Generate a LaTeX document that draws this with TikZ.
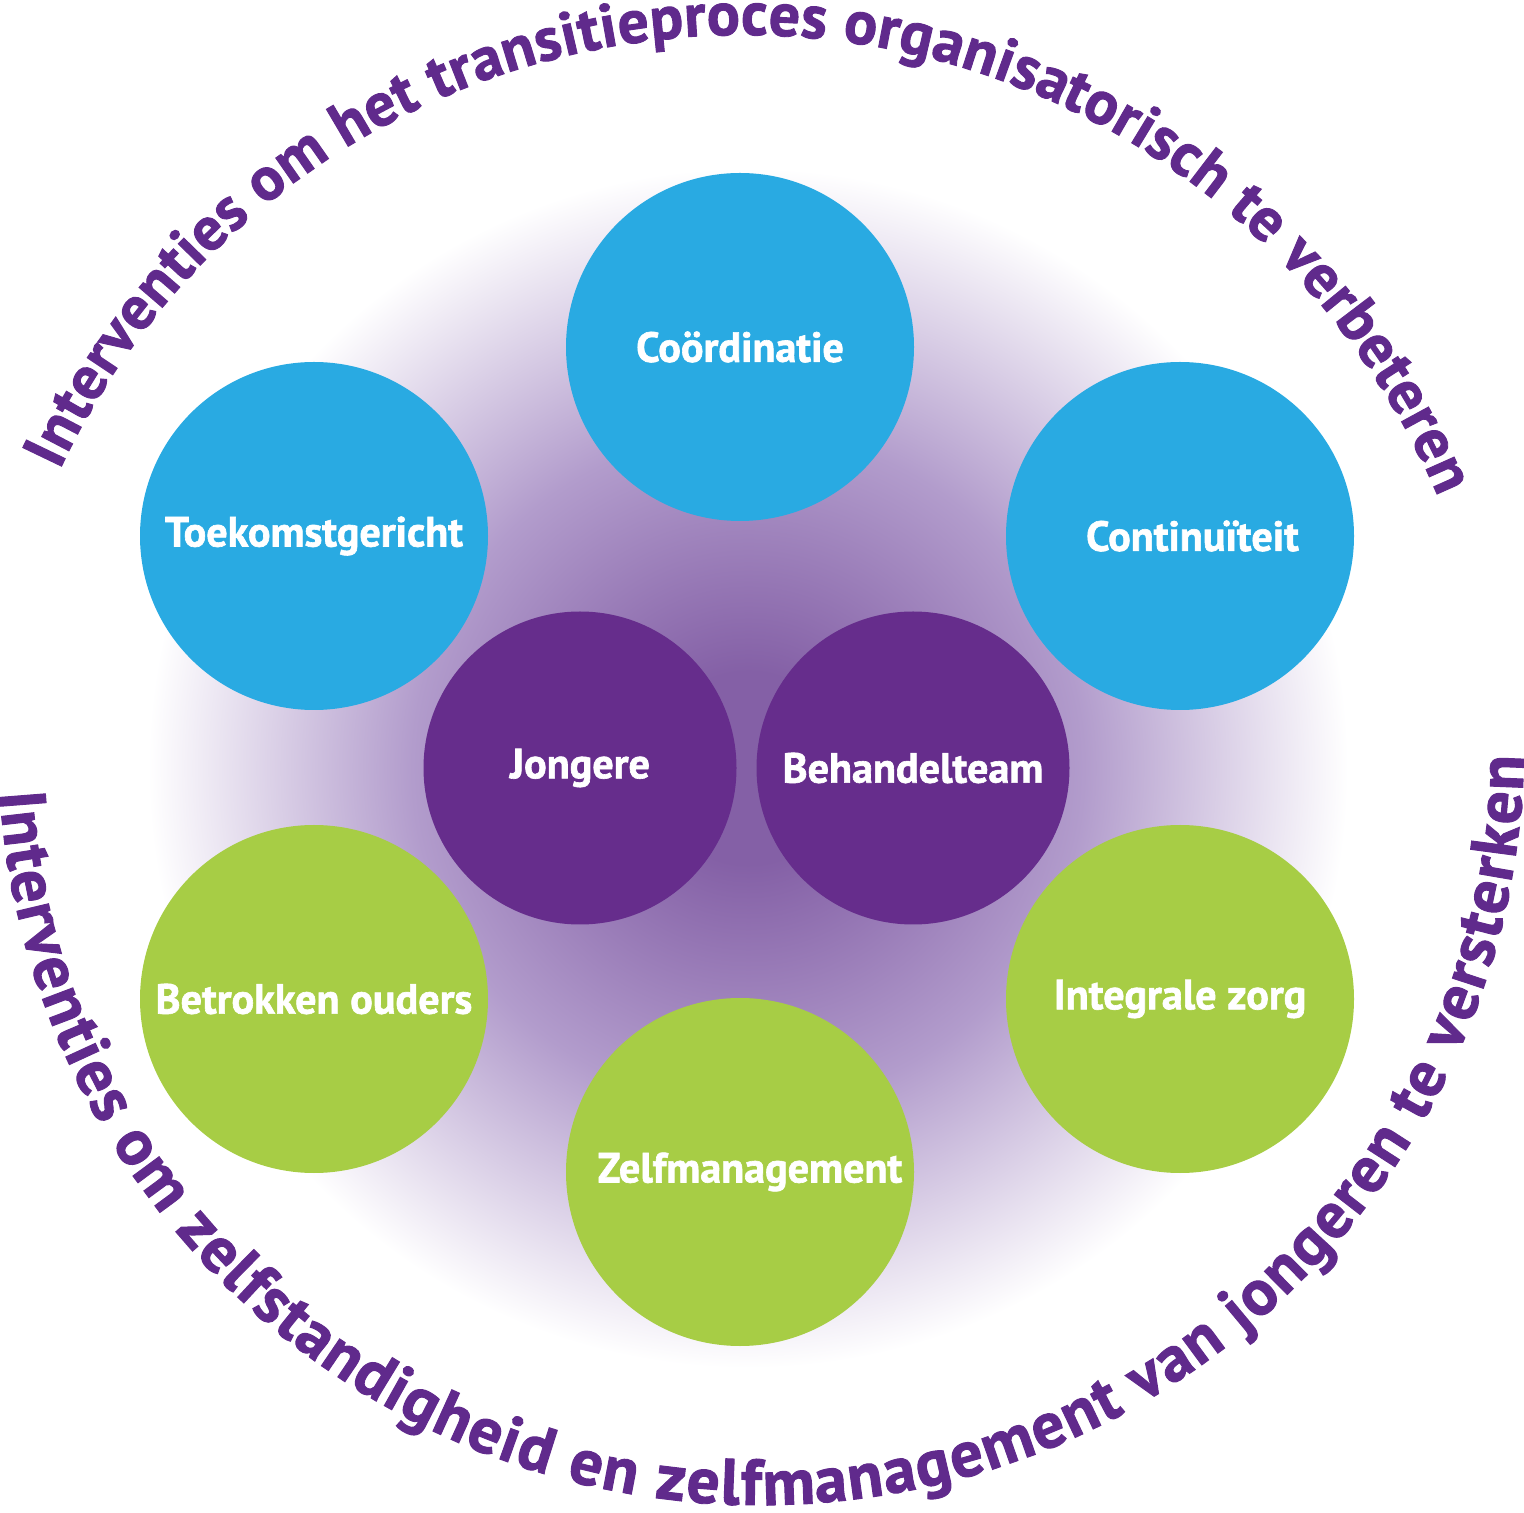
\documentclass[tikz,border=0pt]{standalone}
\usepackage{fontspec}
\setmainfont{PT Sans}
\newfontfamily\heavysans{PT Sans}[FakeBold=1.5]
\usetikzlibrary{decorations.text}
\definecolor{discblue}{RGB}{41,170,226}
\definecolor{discgreen}{RGB}{167,205,69}
\definecolor{discpurple}{RGB}{102,45,140}
\definecolor{arcpurple}{RGB}{96,42,140}
\definecolor{glowmid}{RGB}{132,96,166}
\definecolor{glowring}{RGB}{178,156,204}
\pgfdeclareradialshading{glow}{\pgfpoint{0bp}{0bp}}{color(0bp)=(glowmid); color(4bp)=(glowmid); color(14bp)=(glowring); color(25bp)=(white); color(50bp)=(white)}

\begin{document}
\begin{tikzpicture}[
disc/.style={circle,minimum size=3.48cm,inner sep=0pt,text=white,
    font=\heavysans\bfseries\fontsize{12}{14}\selectfont},
bigdisc/.style={disc,fill=discblue},
greendisc/.style={disc,fill=discgreen},
middisc/.style={disc,fill=discpurple,minimum size=3.13cm}]
\useasboundingbox (0,0) rectangle (15.24,15.12);
\shade[shading=glow] (7.48,7.44) circle (6.0);

\node (coord) [bigdisc] at (7.40,11.65) {Coördinatie};
\node (toek) [bigdisc] at (3.14,9.76) {Toekomstgericht};
\node (cont) [bigdisc] at (11.80,9.76) {\hspace{2.5mm}Continuïteit};
\node (jong) [middisc] at (5.80,7.44) {Jongere};
\node (behteam) [middisc] at (9.13,7.44) {Behandelteam};
\node (betr) [greendisc] at (3.14,5.13) {Betrokken ouders};
\node (integ) [greendisc] at (11.80,5.13) {Integrale zorg};
\node (zelf) [greendisc] at (7.40,3.40) {\hspace{2mm}Zelfmanagement};

\coordinate (topc) at (7.43,7.23);
\coordinate (botc) at (7.61,7.70);
\path [decorate,decoration={text along path,text align={fit to path},
    text={|\heavysans\bfseries\fontsize{17.5}{20}\selectfont\color{arcpurple}|Interventies om het transitieproces organisatorisch te verbeteren}}]
    (topc) ++(155:7.54) arc [start angle=155,end angle=22.8,radius=7.54];
\path [decorate,decoration={text along path,text align={fit to path},
    text={|\heavysans\bfseries\fontsize{18.5}{21}\selectfont\color{arcpurple}|Interventies om zelfstandigheid en zelfmanagement van jongeren te versterken}}]
    (botc) ++(183.8:7.63) arc [start angle=183.8,end angle=358.9,radius=7.63];
\end{tikzpicture}
\end{document}
